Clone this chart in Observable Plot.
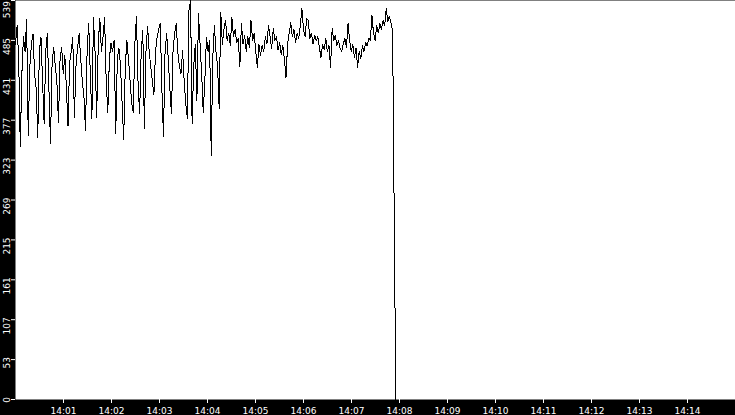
<!DOCTYPE html>
<html><head><meta charset="utf-8">
<script src="https://cdn.jsdelivr.net/npm/d3@7"></script>
<script src="https://cdn.jsdelivr.net/npm/@observablehq/plot@0.6"></script>
<style>html,body{margin:0;padding:0;background:#000;overflow:hidden}</style>
</head><body><div id="chart"></div>
<script>
const startTime = "2020-01-01T14:00:00Z";
const sampleSeconds = 1.989;
const values = [
480,505,460,342,440,490,470,513,357,450,
480,494,440,420,354,470,490,430,373,470,
494,420,346,455,476,450,430,374,460,476,
440,465,420,369,455,470,489,381,450,475,
494,460,430,410,363,470,508,440,380,516,
470,381,480,515,470,490,516,430,388,460,
482,470,485,359,460,475,450,400,351,450,
485,460,430,400,388,480,517,430,386,470,
499,366,470,504,470,450,430,412,470,490,
500,508,420,355,470,494,460,420,386,470,
495,508,470,450,440,471,430,400,380,526,
539,373,450,480,404,521,480,440,388,431,
489,470,485,330,462,505,470,450,393,523,
480,500,512,485,495,478,516,490,500,482,
488,449,508,480,492,470,490,476,512,485,
495,470,449,480,465,478,470,490,480,505,
490,474,501,485,490,472,482,466,478,460,
435,480,495,509,490,500,482,495,488,505,
528,500,490,515,512,488,495,480,492,485,
490,475,462,480,472,488,470,478,449,501,
485,492,478,485,474,470,480,488,475,508,
485,470,480,462,475,449,470,460,478,470,
482,478,488,485,519,495,485,505,495,508,
500,512,505,528,510,518,508,499,248,0
];
const xDomain = ["14:00", "14:15"];
const xTickTimes = ["14:01","14:02","14:03","14:04","14:05","14:06","14:07","14:08","14:09","14:10","14:11","14:12","14:13","14:14"];
const yDomain = [0, 539];
const yTicks = [0, 53.9, 107.8, 161.7, 215.6, 269.5, 323.4, 377.3, 431.2, 485.1, 539];
const yTickLabels = ["0","53","107","161","215","269","323","377","431","485","539"];

const t0 = new Date(startTime);
const toDate = hm => new Date(`2020-01-01T${hm}:00Z`);
const data = values.map((v, i) => ({time: new Date(+t0 + i * sampleSeconds * 1000), value: v}));
const yLabelData = yTicks.map((y, i) => ({y, label: yTickLabels[i]}));
const yLabelsInner = yLabelData.slice(0, -1);
const yLabelTop = yLabelData.slice(-1);

const labelStyle = {y: "y", text: "label", frameAnchor: "left", dx: -8, rotate: -90, textAnchor: "end", lineAnchor: "middle", fill: "white", fontSize: 9};

const chart = Plot.plot({
  width: 735, height: 415,
  marginLeft: 15, marginRight: 0, marginTop: 0, marginBottom: 16,
  style: {background: "black", fontFamily: "'DejaVu Sans', sans-serif", fontSize: "9px"},
  x: {type: "utc", domain: xDomain.map(toDate)},
  y: {domain: yDomain},
  marks: [
    Plot.frame({fill: "white"}),
    Plot.line(data, {x: "time", y: "value", stroke: "black", strokeWidth: 1, shapeRendering: "crispEdges"}),
    Plot.axisX(xTickTimes.map(toDate), {anchor: "bottom", tickSize: 4, tickPadding: 4, color: "white", tickFormat: d3.utcFormat("%H:%M"), label: null, fontSize: 9}),
    Plot.axisY(yTicks, {anchor: "left", tickSize: 4, color: "white", tickFormat: () => "", label: null}),
    Plot.text(yLabelsInner, {...labelStyle, dy: -2.5}),
    Plot.text(yLabelTop, {...labelStyle, dy: 0.5})
  ]
});
document.getElementById("chart").appendChild(chart);
</script>
</body></html>
